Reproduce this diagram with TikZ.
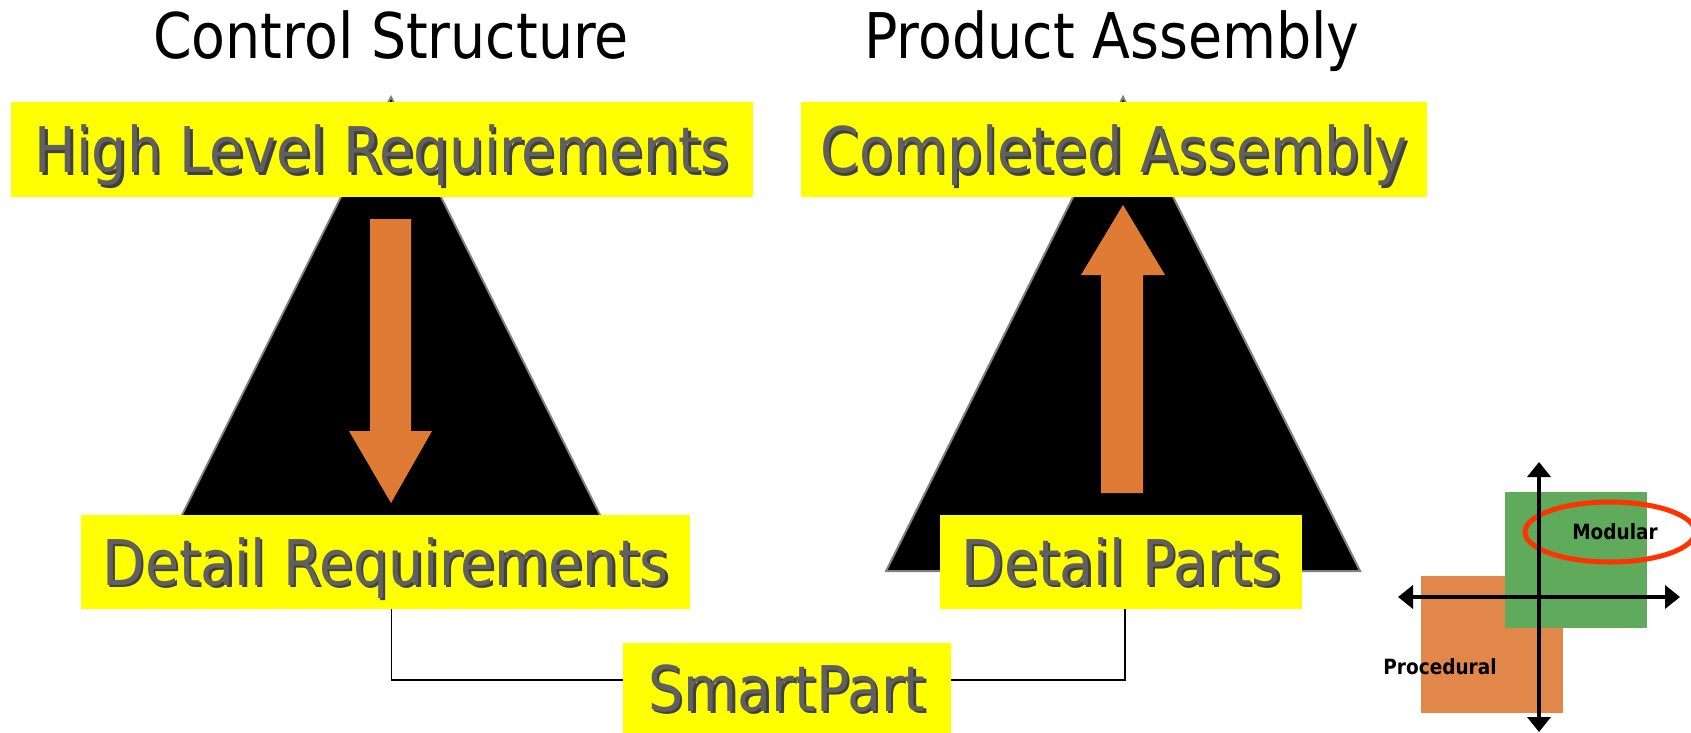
\documentclass[tikz,border=0pt]{standalone}
\usepackage{fontspec}
\setmainfont[FakeStretch=0.88]{DejaVu Sans}
\usetikzlibrary{arrows.meta}
\definecolor{boxyellow}{RGB}{255,255,0}
\definecolor{labelgray}{RGB}{96,96,96}
\definecolor{blockorange}{RGB}{224,123,53}
\definecolor{quadgreen}{RGB}{95,170,91}
\definecolor{quadorange}{RGB}{226,135,74}
\definecolor{ringred}{RGB}{255,51,0}
\newcommand{\shadowed}[1]{\makebox[0pt][l]{\hspace*{2.5pt}\raisebox{-2.5pt}{\textcolor{black!75}{#1}}}\textcolor{labelgray}{#1}}
\begin{document}
\begin{tikzpicture}[x=1pt,y=-1pt,
    labelbox/.style={fill=boxyellow, inner sep=0pt, text height=46, text depth=0,
      font=\fontsize{63}{70}\selectfont},
    headline/.style={anchor=base, inner sep=0pt, font=\fontsize{63}{70}\selectfont},
    quadtext/.style={inner sep=0pt, font=\bfseries\fontsize{21}{24}\selectfont},
    axis/.style={line width=4, {Triangle[length=15pt,width=23pt]}-{Triangle[length=15pt,width=23pt]}}]
  \useasboundingbox (0,0) rectangle (1691,733);
  \draw
    (391,59) node[headline] (cs) {Control Structure}
    (1112,59) node[headline] (pa) {Product Assembly};
  \begin{scope}[draw=gray, line width=2, fill=black]
    \filldraw (391,97) -- (154,571) -- (628,571) -- cycle;
    \filldraw (1123,97) -- (886,571) -- (1360,571) -- cycle;
  \end{scope}
  \begin{scope}[blockorange]
    \fill (370,219) -- (411,219) -- (411,431) -- (432,431) -- (391,503) -- (349,431) -- (370,431) -- cycle;
    \fill (1101,493) -- (1143,493) -- (1143,275) -- (1165,275) -- (1123,205) -- (1081,275) -- (1101,275) -- cycle;
  \end{scope}
  \node[labelbox, minimum width=742, minimum height=95] (hlr) at (382,149.5) {\shadowed{High Level Requirements}};
  \node[labelbox, minimum width=626, minimum height=95] (ca) at (1114,149.5) {\shadowed{Completed Assembly}};
  \node[labelbox, minimum width=609, minimum height=94] (dr) at (385.5,562) {\shadowed{Detail Requirements}};
  \node[labelbox, minimum width=362, minimum height=94] (dp) at (1121,562) {\shadowed{Detail Parts}};
  \node[labelbox, minimum width=328, minimum height=90] (sp) at (787,688) {\shadowed{SmartPart}};
  \begin{scope}[line width=1.8]
    \draw ([xshift=6pt]dr.south) |- ([yshift=8pt]sp.west);
    \draw ([xshift=4pt]dp.south) |- ([yshift=8pt]sp.east);
  \end{scope}
  \fill[quadorange] (1421,576) rectangle (1563,713);
  \fill[quadgreen] (1505,492) rectangle (1647,628);
  \draw[ringred, line width=5] (1610,532) ellipse [x radius=85, y radius=30];
  \draw[axis] (1398,597) -- (1680,597);
  \draw[axis] (1539,462) -- (1539,732);
  \node[quadtext] (mod) at (1615,532) {Modular};
  \node[quadtext] (proc) at (1440,667) {Procedural};
\end{tikzpicture}
\end{document}
